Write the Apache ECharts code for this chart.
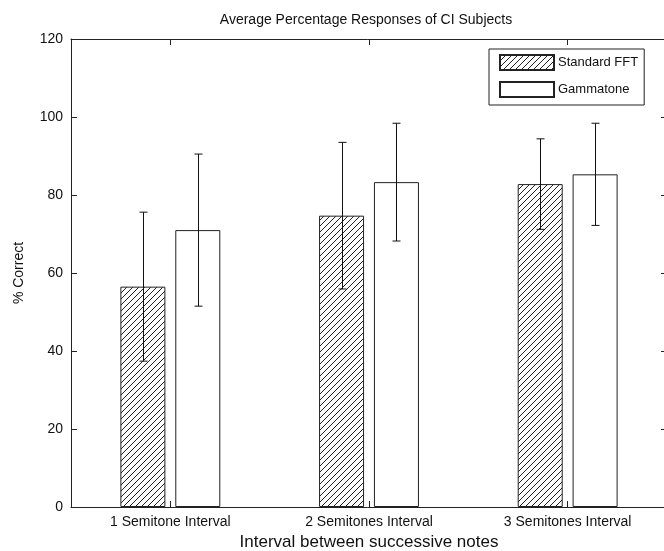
<!DOCTYPE html>
<html>
<head>
<meta charset="utf-8">
<script src="https://cdn.jsdelivr.net/npm/echarts@6/dist/echarts.min.js"></script>
<style>
  html, body { margin: 0; padding: 0; background: #fff; }
  #chart { width: 664px; height: 551px; }
</style>
</head>
<body>
<div id="chart"></div>
<script>
// Mean scores and standard deviations per interval condition
const categories = ['1 Semitone Interval', '2 Semitones Interval', '3 Semitones Interval'];
const fftMean = [56.5, 74.7, 82.8];
const fftErr = [19.1, 18.8, 11.6];
const gammaMean = [71.0, 83.3, 85.3];
const gammaErr = [19.5, 15.1, 13.1];
const yTicks = [0, 20, 40, 60, 80, 100, 120];

const FONT = 'Liberation Sans, Arial, sans-serif';
const INK = '#111';
const BAR_W = 45;
const BAR_GAP = 0.22;

// Diagonal hatch fill for the FFT bars
function hatchPattern() {
  const s = 6;
  const c = document.createElement('canvas');
  c.width = s; c.height = s;
  const g = c.getContext('2d');
  g.fillStyle = '#fff';
  g.fillRect(0, 0, s, s);
  g.strokeStyle = '#222';
  g.lineWidth = 1;
  g.beginPath();
  g.moveTo(0, s); g.lineTo(s, 0);
  g.moveTo(-1, 1); g.lineTo(1, -1);
  g.moveTo(s - 1, s + 1); g.lineTo(s + 1, s - 1);
  g.stroke();
  return c;
}
const hatch = { image: hatchPattern(), repeat: 'repeat' };

// Horizontal offset of each bar centre inside its category band
const pairOffset = (BAR_W * 2 + BAR_W * BAR_GAP) / 2 - BAR_W / 2;

function errorSeries(means, errs, offset) {
  return {
    type: 'custom',
    silent: true,
    z: 10,
    data: means.map((m, i) => [i, m - errs[i], m + errs[i]]),
    renderItem: function (params, api) {
      const lo = api.coord([api.value(0), api.value(1)]);
      const hi = api.coord([api.value(0), api.value(2)]);
      const x = Math.round(lo[0] + offset) + 0.5;
      const cap = 4;
      const st = { stroke: '#111', lineWidth: 1 };
      return {
        type: 'group',
        children: [
          { type: 'line', shape: { x1: x, y1: lo[1], x2: x, y2: hi[1] }, style: st },
          { type: 'line', shape: { x1: x - cap, y1: lo[1], x2: x + cap, y2: lo[1] }, style: st },
          { type: 'line', shape: { x1: x - cap, y1: hi[1], x2: x + cap, y2: hi[1] }, style: st }
        ]
      };
    }
  };
}

const axisLine = { show: true, onZero: false, lineStyle: { color: '#222', width: 1 } };
const axisTick = { show: true, inside: true, length: 6, lineStyle: { color: '#222' } };

const chart = echarts.init(document.getElementById('chart'), null, { renderer: 'canvas' });
chart.setOption({
  animation: false,
  backgroundColor: '#fff',
  textStyle: { fontFamily: FONT },
  title: {
    text: 'Average Percentage Responses of CI Subjects',
    left: 361,
    top: 8,
    textAlign: 'center',
    textStyle: { fontFamily: FONT, fontSize: 14, fontWeight: 'normal', color: INK }
  },
  legend: {
    orient: 'vertical',
    left: 489,
    top: 49,
    padding: [5, 6, 7, 10],
    itemWidth: 54,
    itemHeight: 15,
    itemGap: 10,
    borderColor: '#222',
    borderWidth: 1,
    borderRadius: 0,
    backgroundColor: '#fff',
    icon: 'rect',
    textStyle: { fontFamily: FONT, fontSize: 13, color: INK, padding: [0, 0, 0, -1] },
    data: ['Standard FFT', 'Gammatone']
  },
  grid: { left: 71, top: 39, width: 596, height: 468, containLabel: false, outerBoundsMode: 'none' },
  xAxis: [
    {
      type: 'category',
      data: categories,
      position: 'bottom',
      name: 'Interval between successive notes',
      nameLocation: 'middle',
      nameGap: 25,
      nameTextStyle: { fontFamily: FONT, fontSize: 17, color: INK },
      axisLine: axisLine,
      axisTick: Object.assign({ alignWithLabel: true }, axisTick),
      axisLabel: { fontFamily: FONT, fontSize: 14, color: INK, margin: 8 },
      splitLine: { show: false }
    },
    {
      type: 'category',
      data: categories,
      position: 'top',
      axisLine: axisLine,
      axisTick: Object.assign({ alignWithLabel: true }, axisTick),
      axisLabel: { show: false },
      splitLine: { show: false }
    }
  ],
  yAxis: [
    {
      type: 'value',
      min: yTicks[0],
      max: yTicks[yTicks.length - 1],
      interval: yTicks[1] - yTicks[0],
      position: 'left',
      name: '% Correct',
      nameLocation: 'middle',
      nameRotate: 90,
      nameGap: 45,
      nameTextStyle: { fontFamily: FONT, fontSize: 14, color: INK },
      axisLine: axisLine,
      axisTick: axisTick,
      axisLabel: { fontFamily: FONT, fontSize: 14, color: INK, margin: 8 },
      splitLine: { show: false }
    },
    {
      type: 'value',
      min: yTicks[0],
      max: yTicks[yTicks.length - 1],
      interval: yTicks[1] - yTicks[0],
      position: 'right',
      axisLine: axisLine,
      axisTick: axisTick,
      axisLabel: { show: false },
      splitLine: { show: false }
    }
  ],
  series: [
    {
      name: 'Standard FFT',
      type: 'bar',
      data: fftMean,
      barWidth: BAR_W,
      barGap: (BAR_GAP * 100) + '%',
      itemStyle: { color: hatch, borderColor: '#222', borderWidth: 1 }
    },
    {
      name: 'Gammatone',
      type: 'bar',
      data: gammaMean,
      barWidth: BAR_W,
      itemStyle: { color: '#fff', borderColor: '#222', borderWidth: 1 }
    },
    errorSeries(fftMean, fftErr, -pairOffset),
    errorSeries(gammaMean, gammaErr, pairOffset)
  ]
});
</script>
</body>
</html>
